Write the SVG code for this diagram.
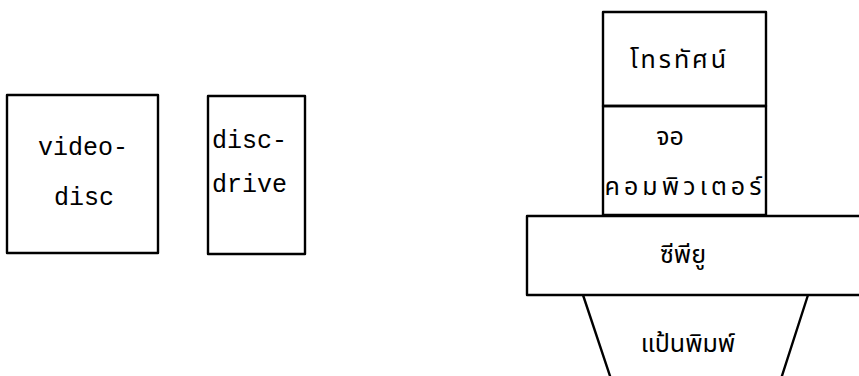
<svg xmlns="http://www.w3.org/2000/svg" width="859" height="376" viewBox="0 0 859 376">
<style>
.box{fill:none;stroke:#000;stroke-width:2.4;stroke-linejoin:round}
.mono{font-family:"Liberation Mono","DejaVu Sans Mono",monospace;font-size:25px;fill:#000}
.thai{font-family:"Noto Sans Thai","Noto Sans","DejaVu Sans",sans-serif;font-size:25px;fill:#000}
</style>
<rect width="859" height="376" fill="#fff"/>
<g id="videodisc">
<rect class="box" x="7" y="95" width="151" height="158"/>
<text class="mono" x="83" y="155" text-anchor="middle">video-</text>
<text class="mono" x="84" y="205" text-anchor="middle">disc</text>
</g>
<g id="discdrive">
<rect class="box" x="208" y="96" width="97" height="158"/>
<text class="mono" x="212" y="148">disc-</text>
<text class="mono" x="212" y="192">drive</text>
</g>
<g id="tv">
<rect class="box" x="603" y="12" width="163" height="94"/>
<text class="thai" x="678" y="68" text-anchor="middle" textLength="96" lengthAdjust="spacing">โทรทัศน์</text>
</g>
<g id="monitor">
<rect class="box" x="603" y="106" width="163" height="109"/>
<text class="thai" x="670" y="145" text-anchor="middle">จอ</text>
<text class="thai" x="683" y="195" text-anchor="middle" textLength="157" lengthAdjust="spacing">คอมพิวเตอร์</text>
</g>
<g id="cpu">
<rect class="box" x="527" y="216" width="345" height="79"/>
<text class="thai" x="683" y="263" text-anchor="middle">ซีพียู</text>
</g>
<g id="keyboard">
<path class="box" d="M583 295 L612 382 M808 295 L780 382"/>
<text class="thai" x="688" y="352" text-anchor="middle">แป้นพิมพ์</text>
</g>
<g id="connectors"></g>
</svg>
